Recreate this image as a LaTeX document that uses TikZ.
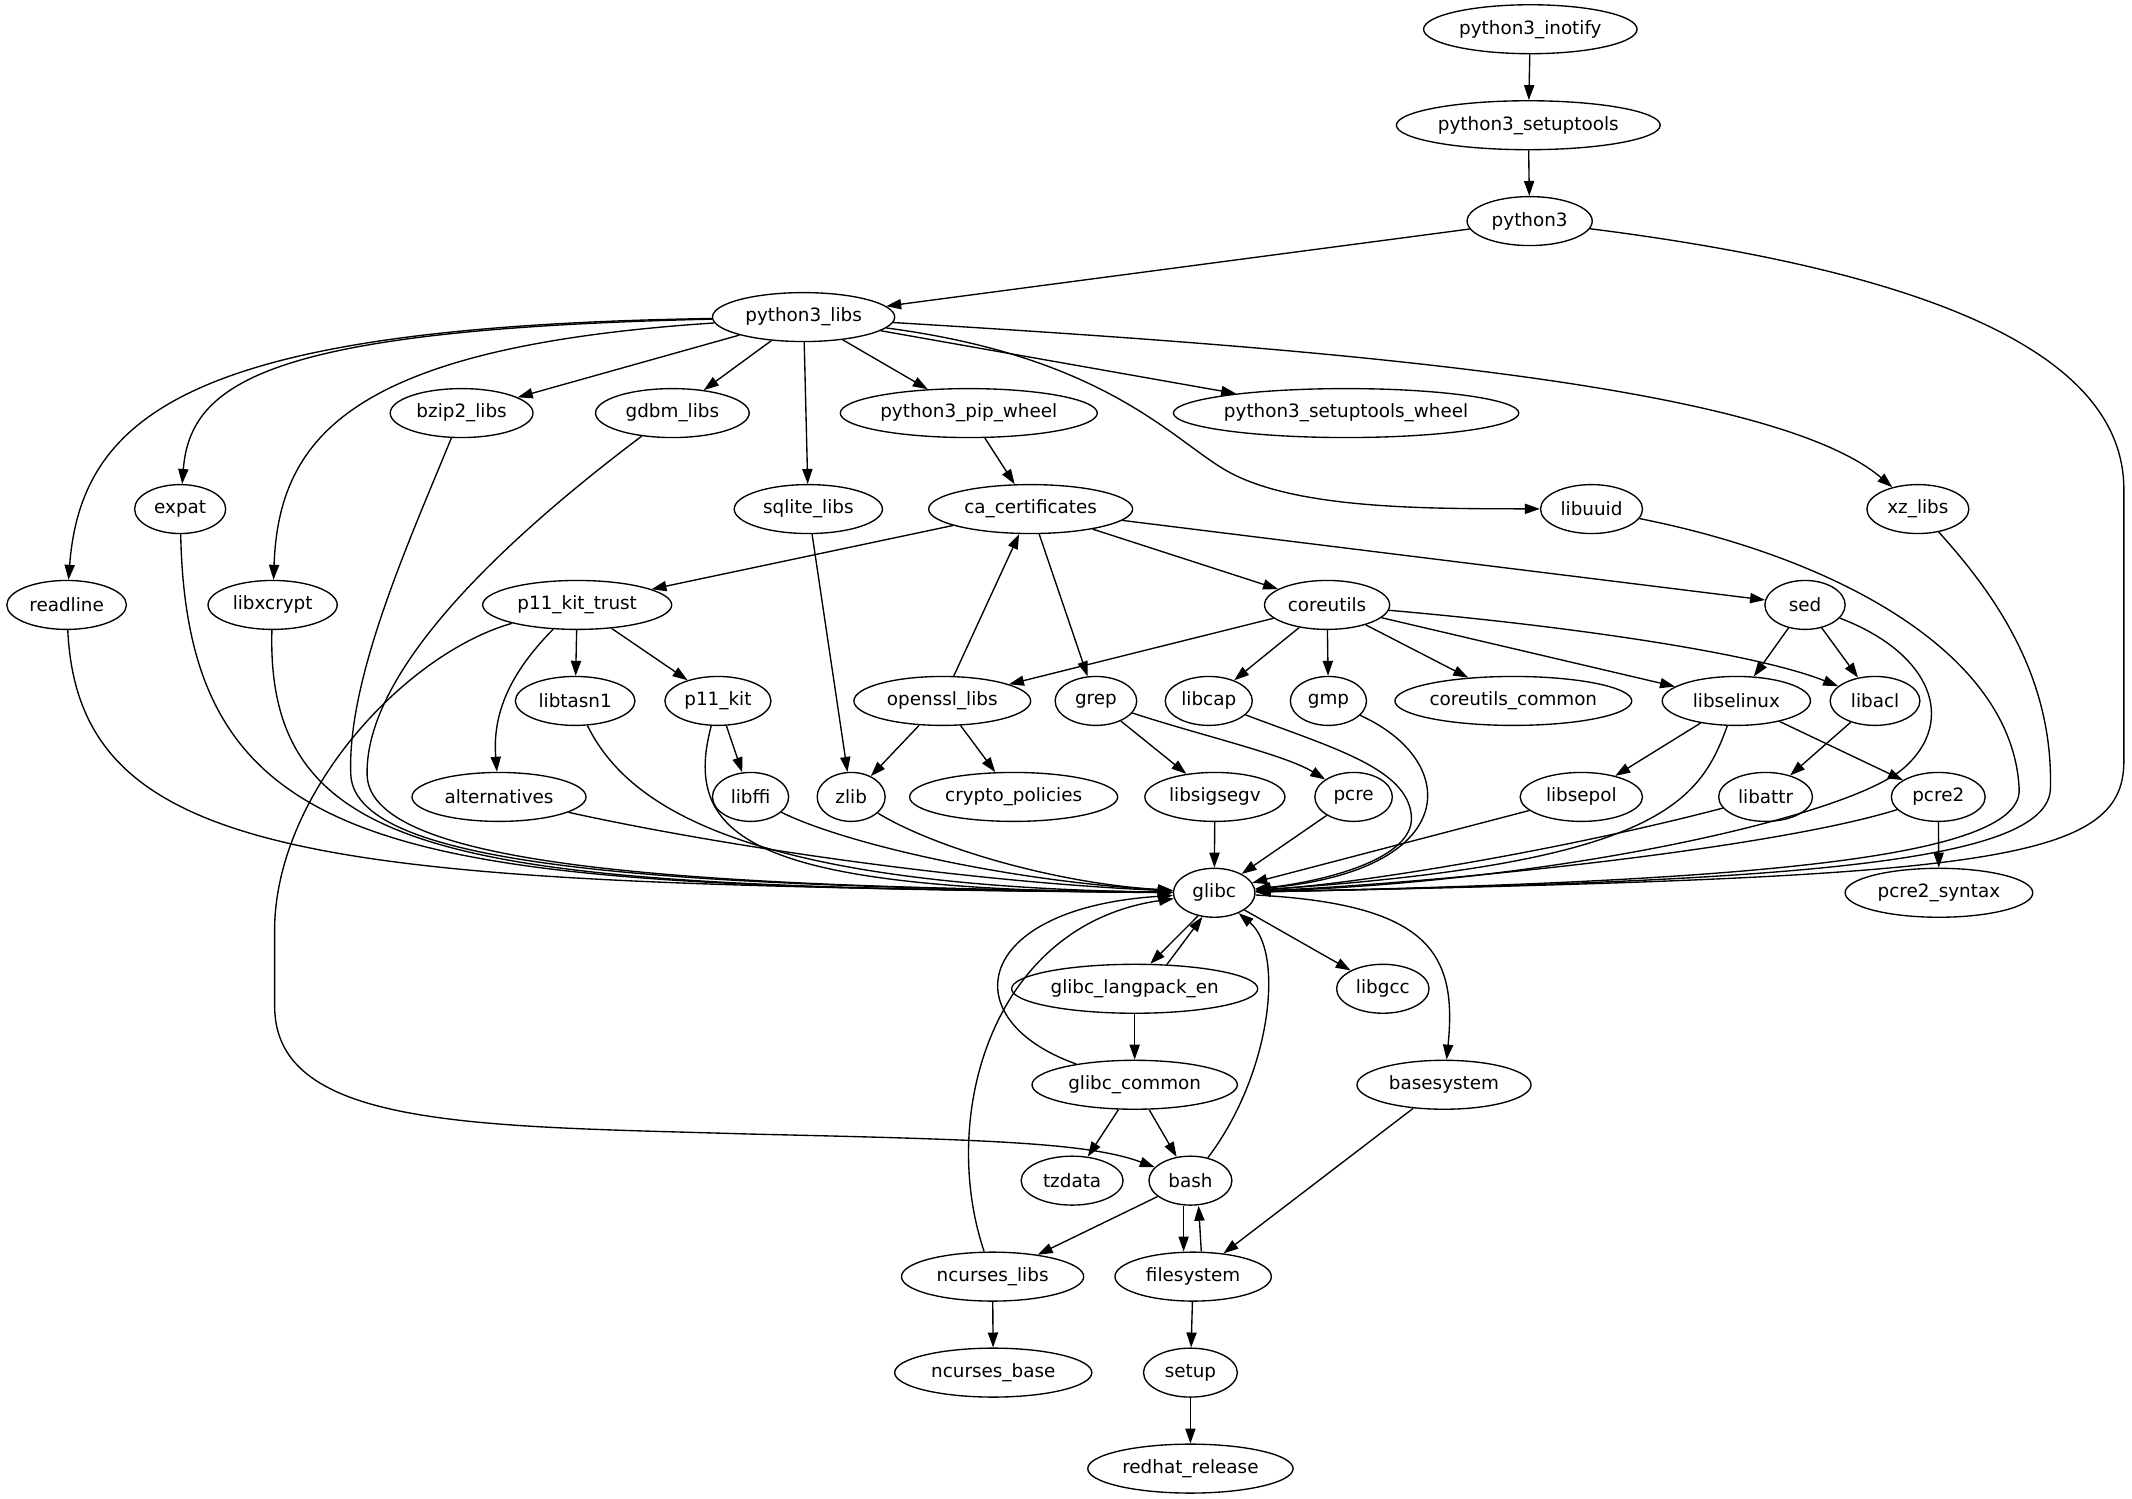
\documentclass[tikz,border=0pt]{standalone}
\usepackage{fontspec}
\newfontfamily\dejavu{DejaVu Sans}
\usetikzlibrary{shapes.geometric,arrows.meta}
\begin{document}
\begin{tikzpicture}[x=1pt,y=-1pt,
 pkg/.style={draw, ellipse, line width=1pt, minimum height=36pt, inner sep=0pt, font=\dejavu\fontsize{13.5}{16}\selectfont},
 dep/.style={line width=1pt, -{Triangle[length=11pt,width=7.5pt]}}]
\fill[white] (0,0) rectangle (1568,1102);
\useasboundingbox (0,0) rectangle (1568,1102);
% row 0-3
\node[pkg,minimum width=157pt] (inotify) at (1125.5,21.5) {python3\_inotify};
\node[pkg,minimum width=194pt] (setuptools) at (1124,92.1) {python3\_setuptools};
\node[pkg,minimum width=92pt] (python3) at (1125,162.6) {python3};
\node[pkg,minimum width=134pt] (pylibs) at (591,233.2) {python3\_libs};
% row 4
\node[pkg,minimum width=105pt] (bzip2) at (339.5,303.8) {bzip2\_libs};
\node[pkg,minimum width=113pt] (gdbm) at (494.5,303.8) {gdbm\_libs};
\node[pkg,minimum width=189pt] (pipwheel) at (712.5,303.8) {python3\_pip\_wheel};
\node[pkg,minimum width=254pt] (stwheel) at (990,303.8) {python3\_setuptools\_wheel};
% row 5
\node[pkg,minimum width=67pt] (expat) at (132.5,374.4) {expat};
\node[pkg,minimum width=109pt] (sqlite) at (594.5,374.4) {sqlite\_libs};
\node[pkg,minimum width=150pt] (cacert) at (758,374.4) {ca\_certificates};
\node[pkg,minimum width=75pt] (libuuid) at (1170.5,374.4) {libuuid};
\node[pkg,minimum width=75pt] (xzlibs) at (1410.5,374.4) {xz\_libs};
% row 6
\node[pkg,minimum width=88pt] (readline) at (49,444.9) {readline};
\node[pkg,minimum width=95pt] (libxcrypt) at (200.5,444.9) {libxcrypt};
\node[pkg,minimum width=139pt] (p11trust) at (424.5,444.9) {p11\_kit\_trust};
\node[pkg,minimum width=92pt] (coreutils) at (976,444.9) {coreutils};
\node[pkg,minimum width=59pt] (sed) at (1327.5,444.9) {sed};
% row 7
\node[pkg,minimum width=88pt] (libtasn1) at (423,515.5) {libtasn1};
\node[pkg,minimum width=78pt] (p11kit) at (528,515.5) {p11\_kit};
\node[pkg,minimum width=130pt] (openssl) at (693,515.5) {openssl\_libs};
\node[pkg,minimum width=60pt] (grep) at (806,515.5) {grep};
\node[pkg,minimum width=64pt] (libcap) at (889,515.5) {libcap};
\node[pkg,minimum width=56pt] (gmp) at (977,515.5) {gmp};
\node[pkg,minimum width=172pt] (cucommon) at (1113,515.5) {coreutils\_common};
\node[pkg,minimum width=109pt] (libselinux) at (1277,515.5) {libselinux};
\node[pkg,minimum width=66pt] (libacl) at (1379,515.5) {libacl};
% row 8
\node[pkg,minimum width=128pt] (alternatives) at (367,586.1) {alternatives};
\node[pkg,minimum width=56pt] (libffi) at (552,586.1) {libffi};
\node[pkg,minimum width=50pt] (zlib) at (626,586.1) {zlib};
\node[pkg,minimum width=153pt] (cryptopol) at (745.5,586.1) {crypto\_policies};
\node[pkg,minimum width=103pt] (libsigsegv) at (893.5,586.1) {libsigsegv};
\node[pkg,minimum width=57pt] (pcre) at (995.5,586.1) {pcre};
\node[pkg,minimum width=90pt] (libsepol) at (1163,586.1) {libsepol};
\node[pkg,minimum width=69pt] (libattr) at (1298.5,586.1) {libattr};
\node[pkg,minimum width=69pt] (pcretwo) at (1425.5,586.1) {pcre2};
% row 9
\node[pkg,minimum width=60pt] (glibc) at (893,656.6) {glibc};
\node[pkg,minimum width=138pt] (pcresyntax) at (1426,656.6) {pcre2\_syntax};
% row 10
\node[pkg,minimum width=181pt] (langpack) at (834.5,727.2) {glibc\_langpack\_en};
\node[pkg,minimum width=68pt] (libgcc) at (1017,727.2) {libgcc};
% row 11
\node[pkg,minimum width=151pt] (gcommon) at (834.5,797.8) {glibc\_common};
\node[pkg,minimum width=128pt] (basesystem) at (1062,797.8) {basesystem};
% row 12
\node[pkg,minimum width=75pt] (tzdata) at (788.5,868.3) {tzdata};
\node[pkg,minimum width=61pt] (bash) at (875.5,868.3) {bash};
% row 13
\node[pkg,minimum width=134pt] (ncurses) at (730,938.9) {ncurses\_libs};
\node[pkg,minimum width=115pt] (filesystem) at (877.5,938.9) {filesystem};
% row 14-15
\node[pkg,minimum width=145pt] (ncbase) at (730.5,1009.5) {ncurses\_base};
\node[pkg,minimum width=69pt] (setup) at (875.5,1009.5) {setup};
\node[pkg,minimum width=151pt] (redhat) at (875.5,1080.1) {redhat\_release};

% top chain
\draw[dep] (inotify) -- (setuptools);
\draw[dep] (setuptools) -- (python3);
\draw[dep] (python3) -- (pylibs);
\draw[dep] (python3) .. controls (1420,200) and (1562,260) .. (1562,360) -- (1562,560) .. controls (1562,635) and (1460,645) .. (glibc);

% python3_libs fan-out
\draw[dep] (pylibs) .. controls (150,240) and (60,300) .. (readline);
\draw[dep] (pylibs) .. controls (200,242) and (140,280) .. (expat);
\draw[dep] (pylibs) .. controls (260,255) and (205,320) .. (libxcrypt);
\draw[dep] (pylibs) -- (bzip2);
\draw[dep] (pylibs) -- (gdbm);
\draw[dep] (pylibs) -- (sqlite);
\draw[dep] (pylibs) -- (pipwheel);
\draw[dep] (pylibs) -- (stwheel);
\draw[dep] (pylibs) .. controls (810,262) and (860,321) .. (900,345) .. controls (950,375) and (1050,374) .. (libuuid);
\draw[dep] (pylibs) .. controls (950,255) and (1300,280) .. (xzlibs);

% row 4/5 down
\draw[dep] (pipwheel) -- (cacert);
\draw[dep] (bzip2) .. controls (300,400) and (255,500) .. (258,570) .. controls (262,640) and (500,652) .. (glibc);
\draw[dep] (gdbm) .. controls (380,390) and (268,490) .. (270,570) .. controls (272,640) and (520,652) .. (glibc);
\draw[dep] (expat) .. controls (138,640) and (300,652) .. (glibc);
\draw[dep] (sqlite) -- (zlib);
\draw[dep] (libuuid) .. controls (1350,410) and (1480,480) .. (1485,580) .. controls (1488,630) and (1300,648) .. (glibc);
\draw[dep] (xzlibs) .. controls (1470,440) and (1510,500) .. (1508,580) .. controls (1506,635) and (1320,648) .. (glibc);

% ca_certificates
\draw[dep] (cacert) -- (p11trust);
\draw[dep] (cacert) -- (coreutils);
\draw[dep] (cacert) -- (sed);
\draw[dep] (cacert) -- (grep);
\draw[dep] (openssl) -- (cacert);

% row 6 down
\draw[dep] (readline) .. controls (58,640) and (250,650) .. (glibc);
\draw[dep] (libxcrypt) .. controls (195,640) and (350,652) .. (glibc);
\draw[dep] (p11trust) -- (libtasn1);
\draw[dep] (p11trust) -- (p11kit);
\draw[dep] (p11trust) .. controls (375,495) and (362,525) .. (alternatives);
\draw[dep] (p11trust) .. controls (300,480) and (205,580) .. (202,680) -- (202,740) .. controls (202,830) and (350,828) .. (550,834) .. controls (720,838) and (800,840) .. (bash);
\draw[dep] (coreutils) -- (openssl);
\draw[dep] (coreutils) -- (libcap);
\draw[dep] (coreutils) -- (gmp);
\draw[dep] (coreutils) -- (cucommon);
\draw[dep] (coreutils) -- (libselinux);
\draw[dep] (coreutils) .. controls (1150,460) and (1290,480) .. (libacl);
\draw[dep] (sed) -- (libselinux);
\draw[dep] (sed) -- (libacl);
\draw[dep] (sed) .. controls (1420,480) and (1440,530) .. (1400,565) .. controls (1360,600) and (1150,648) .. (glibc);

% row 7 down
\draw[dep] (libtasn1) .. controls (460,590) and (540,652) .. (glibc);
\draw[dep] (p11kit) -- (libffi);
\draw[dep] (p11kit) .. controls (500,620) and (560,655) .. (glibc);
\draw[dep] (openssl) -- (zlib);
\draw[dep] (openssl) -- (cryptopol);
\draw[dep] (grep) -- (libsigsegv);
\draw[dep] (grep) .. controls (880,540) and (945,555) .. (pcre);
\draw[dep] (libcap) .. controls (980,550) and (1035,565) .. (1038,600) .. controls (1041,635) and (960,650) .. (glibc);
\draw[dep] (gmp) .. controls (1075,560) and (1075,640) .. (glibc);
\draw[dep] (libselinux) -- (libsepol);
\draw[dep] (libselinux) -- (pcretwo);
\draw[dep] (libselinux) .. controls (1250,590) and (1220,635) .. (glibc);
\draw[dep] (libacl) -- (libattr);

% row 8 down
\draw[dep] (alternatives) .. controls (520,620) and (700,648) .. (glibc);
\draw[dep] (libffi) .. controls (620,620) and (740,648) .. (glibc);
\draw[dep] (zlib) .. controls (690,625) and (780,650) .. (glibc);
\draw[dep] (libsigsegv) -- (glibc);
\draw[dep] (pcre) -- (glibc);
\draw[dep] (libsepol) -- (glibc);
\draw[dep] (libattr) .. controls (1150,625) and (1000,650) .. (glibc);
\draw[dep] (pcretwo) .. controls (1300,625) and (1050,650) .. (glibc);
\draw[dep] (pcretwo) -- (pcresyntax);

% glibc region
\draw[dep] (glibc.235) -- (langpack.58);
\draw[dep] (langpack.37) -- (glibc.244);
\draw[dep] (glibc) -- (libgcc);
\draw[dep] (glibc) .. controls (1050,665) and (1072,700) .. (basesystem);
\draw[dep] (langpack) -- (gcommon);
\draw[dep] (gcommon) .. controls (700,750) and (715,668) .. (glibc);
\draw[dep] (gcommon) -- (tzdata);
\draw[dep] (gcommon) -- (bash);
\draw[dep] (bash) .. controls (935,790) and (945,700) .. (glibc);
\draw[dep] (bash) -- (ncurses);
\draw[dep] ([xshift=-5pt]bash.south) -- ([xshift=-7pt]filesystem.north);
\draw[dep] ([xshift=6pt]filesystem.north) -- ([xshift=6pt]bash.south);
\draw[dep] (basesystem) -- (filesystem);
\draw[dep] (ncurses) .. controls (690,820) and (730,680) .. (glibc);
\draw[dep] (ncurses) -- (ncbase);
\draw[dep] (filesystem) -- (setup);
\draw[dep] (setup) -- (redhat);
\end{tikzpicture}
\end{document}
